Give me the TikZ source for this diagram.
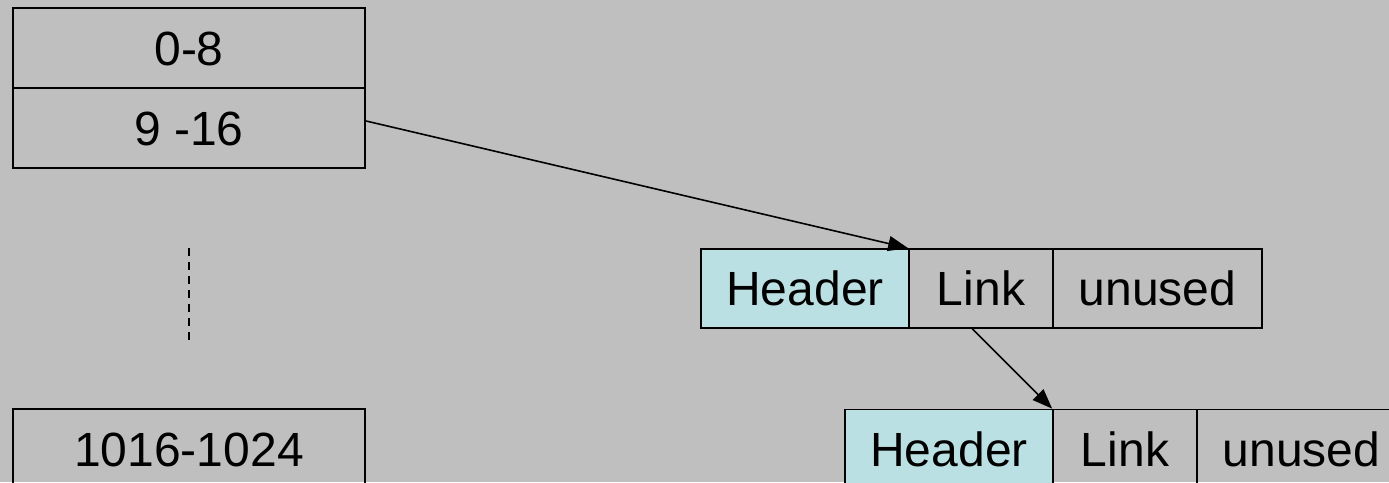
\documentclass[tikz,border=0pt]{standalone}
\usepackage{fontspec}
\setmainfont{Liberation Sans}
\usetikzlibrary{arrows.meta,calc}
\definecolor{bg}{RGB}{192,191,192}
\definecolor{hdr}{RGB}{187,224,227}
\begin{document}
\begin{tikzpicture}[x=1pt,y=-1pt,
  cell/.style={draw=black,line width=1.7pt,rectangle,inner sep=0pt,minimum height=79pt,
    font=\fontsize{48}{56}\selectfont,text height=34.4pt,text depth=0pt},
  boxcell/.style={cell,line width=2.2pt,minimum height=80pt,minimum width=352pt},
  hdrcell/.style={cell,fill=hdr,minimum width=208pt},
  linkcell/.style={cell,minimum width=144pt},
  unusedcell/.style={cell,minimum width=209pt},
  arr/.style={line width=1.6pt,-{Triangle[length=20pt,width=15pt]}},
  dots/.style={line width=2pt,dash pattern=on 8pt off 6pt}]
\fill[bg] (0,0) rectangle (1389,482);
\clip (0,0) rectangle (1389,482);
% index table
\node[boxcell] (r08) at (189,48) {0-8};
\node[boxcell] (r916) at (189,128) {9 -16};
\node[boxcell] (r1016) at (189,449) {1016-1024};
\coordinate (d1) at (189,248);
\coordinate (d2) at (189,340);
\draw[dots] (d1) -- (d2);
% first block
\node[hdrcell] (h1) at (805,288.5) {Header};
\node[linkcell] (l1) at (981,288.5) {Link};
\node[unusedcell] (u1) at (1157.5,288.5) {unused};
% second block
\node[hdrcell] (h2) at (949,449) {Header};
\node[linkcell] (l2) at (1125,449) {Link};
\node[unusedcell] (u2) at (1301.5,449) {unused};
% arrows
\draw[arr] ($(r916.east)+(0,-7)$) -- (l1.north west);
\draw[arr] ($(l1.south west)!0.44!(l1.south east)$) -- (l2.north west);
\end{tikzpicture}
\end{document}
